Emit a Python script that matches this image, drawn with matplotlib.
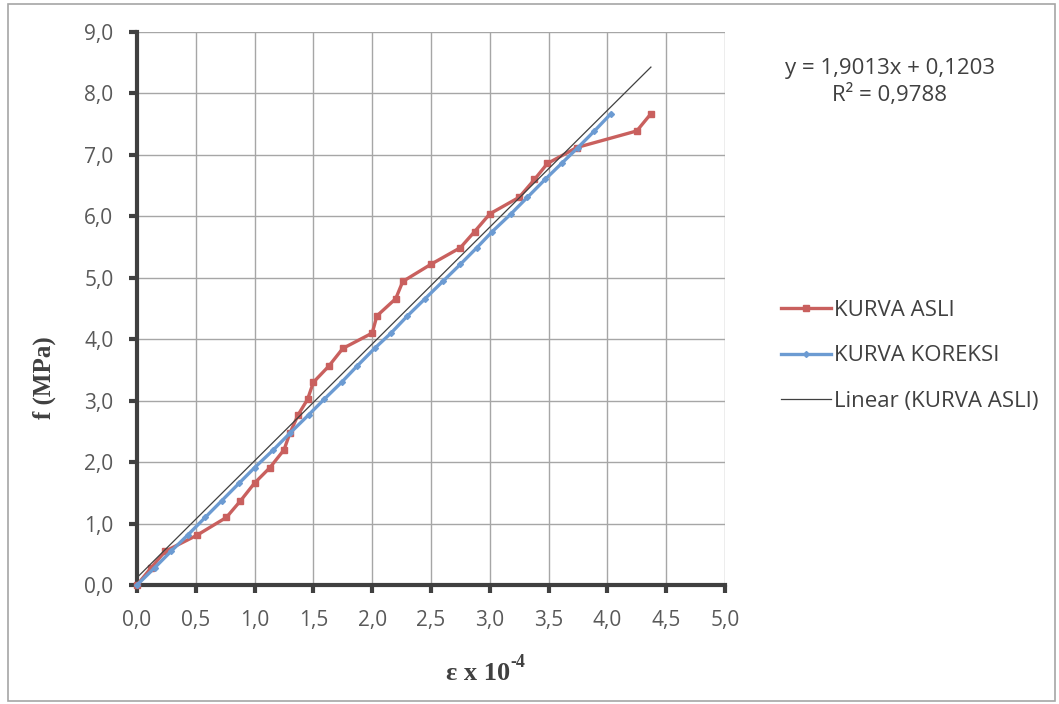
import numpy as np
import matplotlib
matplotlib.use("Agg")
import matplotlib.pyplot as plt
from matplotlib.patches import Rectangle

# data (strain x 10^-4, stress in MPa)
eps_asli = [0.00, 0.12, 0.24, 0.51, 0.76, 0.88, 1.00, 1.13, 1.25, 1.30, 1.37, 1.45, 1.50,
            1.63, 1.75, 2.00, 2.04, 2.20, 2.26, 2.50, 2.75, 2.87, 3.00, 3.25, 3.38, 3.49,
            3.74, 4.25, 4.37]
f_asli = [0.00, 0.28, 0.55, 0.81, 1.10, 1.37, 1.66, 1.91, 2.20, 2.47, 2.77, 3.02, 3.30,
          3.56, 3.85, 4.10, 4.38, 4.66, 4.94, 5.22, 5.49, 5.75, 6.04, 6.31, 6.60, 6.86,
          7.12, 7.39, 7.67]
eps_koreksi = [0.00, 0.15, 0.29, 0.43, 0.58, 0.72, 0.87, 1.00, 1.16, 1.30, 1.46, 1.59, 1.74,
               1.87, 2.02, 2.16, 2.30, 2.45, 2.60, 2.75, 2.89, 3.02, 3.18, 3.32, 3.47, 3.61,
               3.75, 3.89, 4.03]
f_koreksi = f_asli

slope, intercept = 1.9013, 0.1203
trend_x = [0.0, 4.37]
eq_text = "y = 1,9013x + 0,1203\nR² = 0,9788"

xticks = np.arange(0, 5.01, 0.5)
yticks = np.arange(0, 9.01, 1.0)

def comma(v):
    return f"{v:.1f}".replace(".", ",")

W, H = 1059, 704
fig = plt.figure(figsize=(W / 100, H / 100), dpi=100)
fig.patch.set_facecolor("white")
fig.add_artist(Rectangle((8 / W, 3 / H), 1047 / W, 697 / H, transform=fig.transFigure,
                         fill=False, edgecolor="#a6a6a6", linewidth=1.2))

ax = fig.add_axes([137 / W, (H - 585) / H, (725 - 137) / W, (585 - 32) / H])

sans = "Open Sans"
serif = "Liberation Serif"
ax.plot(eps_asli, f_asli, color="#C9605E", lw=2.4, marker="s", ms=5,
        label="KURVA ASLI", clip_on=False, zorder=3)
ax.plot(eps_koreksi, f_koreksi, color="#6C9BD2", lw=2.4, marker="D", ms=3,
        label="KURVA KOREKSI", clip_on=False, zorder=4)
tx = np.array(trend_x)
ax.plot(tx, slope * tx + intercept, color="#404040", lw=0.9,
        label="Linear (KURVA ASLI)", zorder=5)

ax.set_xlim(0, 5)
ax.set_ylim(0, 9)
ax.set_xticks(xticks)
ax.set_yticks(yticks)
ax.set_xticklabels([comma(v) for v in xticks], fontsize=15, color="#595959", family=sans)
ax.set_yticklabels([comma(v) for v in yticks], fontsize=15, color="#595959", family=sans)
ax.tick_params(direction="out", length=6, width=3, color="#404040")
ax.tick_params(axis="x", pad=12)
ax.tick_params(axis="y", pad=11)
ax.grid(True, color="#a6a6a6", lw=1)
ax.set_axisbelow(True)
for s in ["top", "right"]:
    ax.spines[s].set_visible(False)
for s in ["left", "bottom"]:
    ax.spines[s].set_linewidth(3)
    ax.spines[s].set_color("#404040")

# axis titles placed where the original has them
xl = fig.text(446 / W, 1 - 674 / H, "ε x 10", ha="left", va="center", fontsize=19,
              fontweight="bold", family=serif, color="#404040")
ax.annotate("-4", xy=(1, 0.62), xycoords=xl, ha="left", va="bottom", fontsize=13,
            fontweight="bold", family=serif, color="#404040")
fig.text(44 / W, 1 - 378 / H, "f (MPa)", ha="center", va="center", rotation=90,
         fontsize=18, fontweight="bold", family=serif, color="#404040")

fig.text(890 / W, 1 - 82 / H, eq_text, ha="center", va="center", fontsize=16,
         family=sans, color="#404040", linespacing=1.25)

ax.legend(loc="upper left", bbox_to_anchor=(761 / W, 1 - 280 / H),
          bbox_transform=fig.transFigure, frameon=False, numpoints=1,
          prop={"family": sans, "size": 16}, labelcolor="#404040",
          handlelength=2.25, handletextpad=0.15, labelspacing=1.1)

fig.savefig("out.png", dpi=100)
